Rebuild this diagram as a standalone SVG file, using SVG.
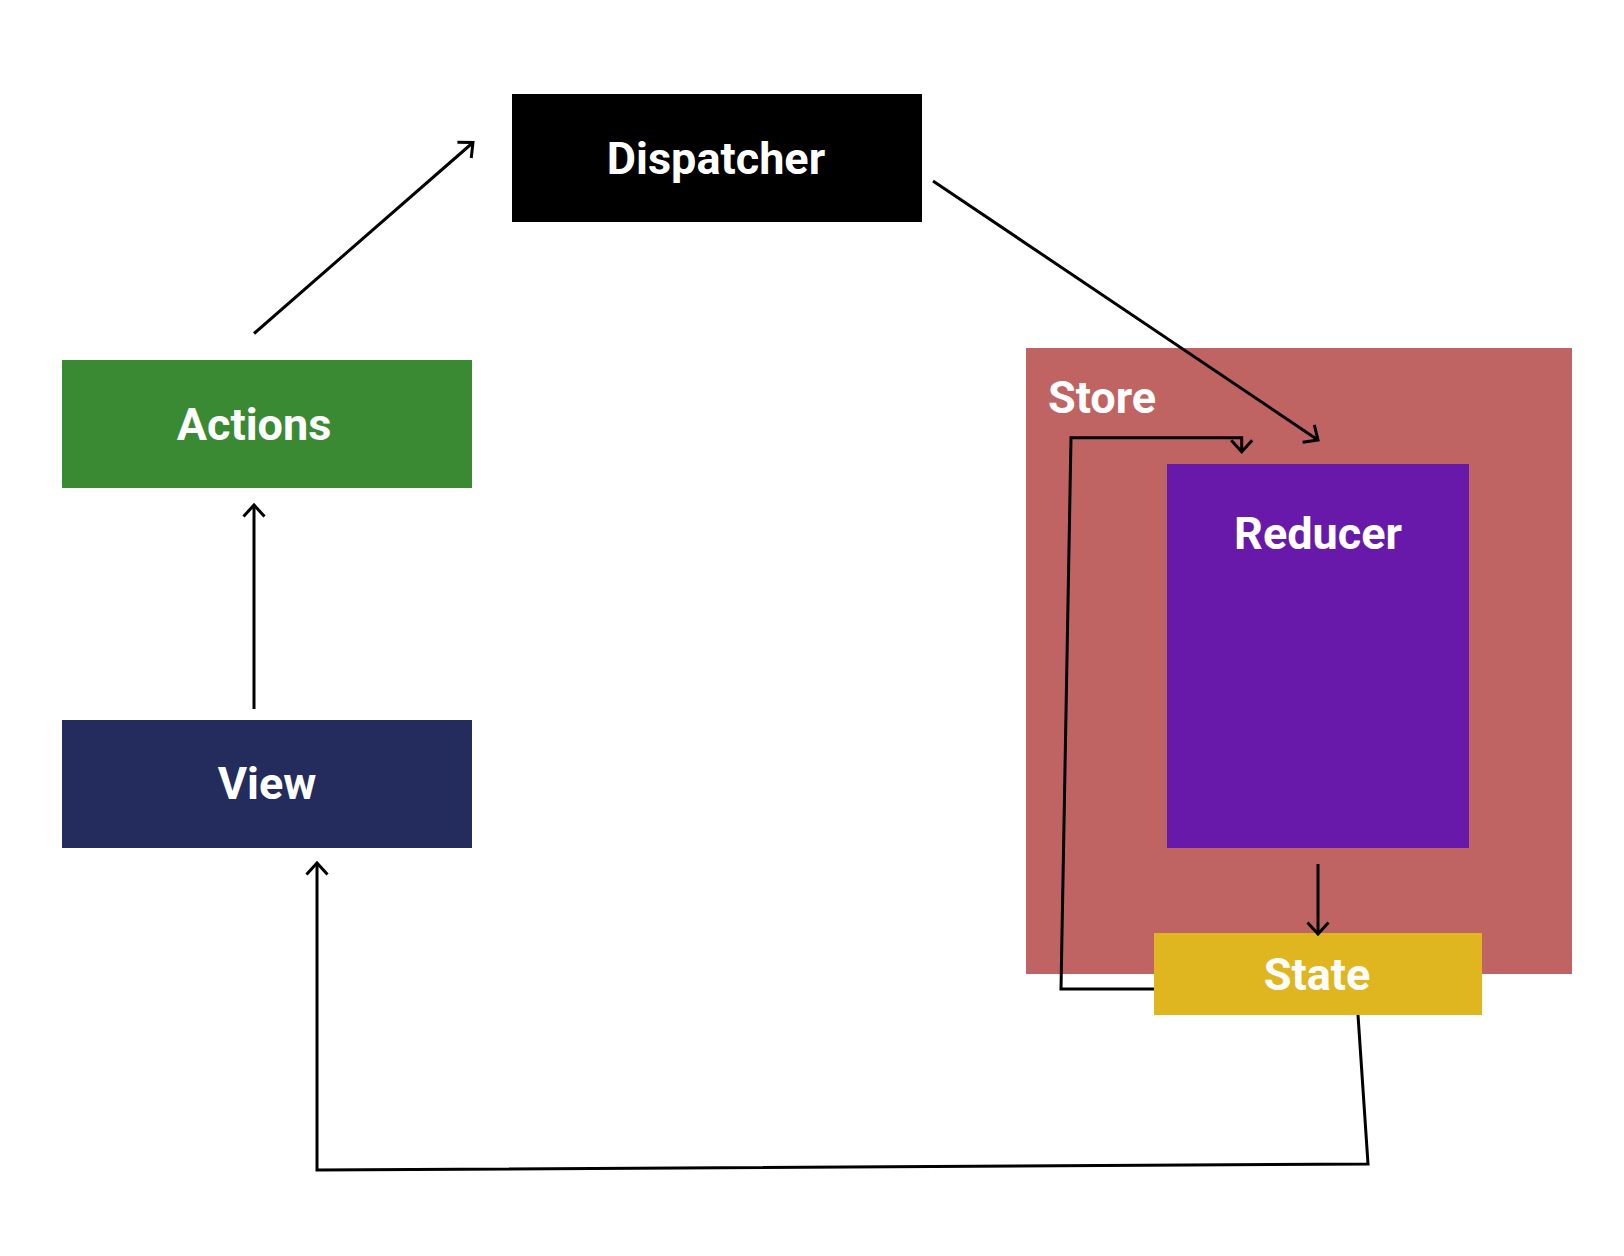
<svg xmlns="http://www.w3.org/2000/svg" width="1624" height="1256" viewBox="0 0 1624 1256">
  <style>
    .lbl { font-family: Roboto, "Liberation Sans", Arial, sans-serif; font-weight: 700; font-size: 45px; fill: #ffffff; }
    .mid { text-anchor: middle; }
    .conn { fill: none; stroke: #000000; stroke-width: 3; stroke-linejoin: miter; }
  </style>
  <defs>
    <marker id="arrow" markerUnits="userSpaceOnUse" markerWidth="30" markerHeight="30" refX="0" refY="0" orient="auto" overflow="visible" viewBox="-15 -15 30 30">
      <path d="M-11.5,-10.5 L0,0 L-11.5,10.5" fill="none" stroke="#000000" stroke-width="3"/>
    </marker>
  </defs>
  <rect width="1624" height="1256" fill="#ffffff"/>

  <g id="dispatcher">
    <rect x="512" y="94" width="410" height="128" fill="#000000"/>
    <text class="lbl mid" x="716" y="173.5">Dispatcher</text>
  </g>
  <g id="actions">
    <rect x="62" y="360" width="410" height="128" fill="#3A8A33"/>
    <text class="lbl mid" x="254" y="439.5">Actions</text>
  </g>
  <g id="view">
    <rect x="62" y="720" width="410" height="128" fill="#232C5C"/>
    <text class="lbl mid" x="267" y="798.5">View</text>
  </g>
  <g id="store">
    <rect x="1026" y="348" width="546" height="626" fill="#BF6462"/>
    <text class="lbl" x="1048" y="412.5">Store</text>
  </g>
  <g id="reducer">
    <rect x="1167" y="464" width="302" height="384" fill="#6919AA"/>
    <text class="lbl mid" x="1318" y="548.5">Reducer</text>
  </g>
  <g id="state">
    <rect x="1154" y="933" width="328" height="82" fill="#E0B620"/>
    <text class="lbl mid" x="1317" y="989.5">State</text>
  </g>

  <g id="connectors">
    <path class="conn" d="M254,333.5 L473,142.5" marker-end="url(#arrow)"/>
    <path class="conn" d="M933,181 L1318,440" marker-end="url(#arrow)"/>
    <path class="conn" d="M254,709 L254,505" marker-end="url(#arrow)"/>
    <path class="conn" d="M1318,864 L1318,934" marker-end="url(#arrow)"/>
    <path class="conn" d="M1154,989 L1061,989 L1071,437.7 L1241.7,437.7 L1241.7,451.7" marker-end="url(#arrow)"/>
    <path class="conn" d="M1358,1015 L1368,1164 L317,1170 L317,863" marker-end="url(#arrow)"/>
  </g>
</svg>
